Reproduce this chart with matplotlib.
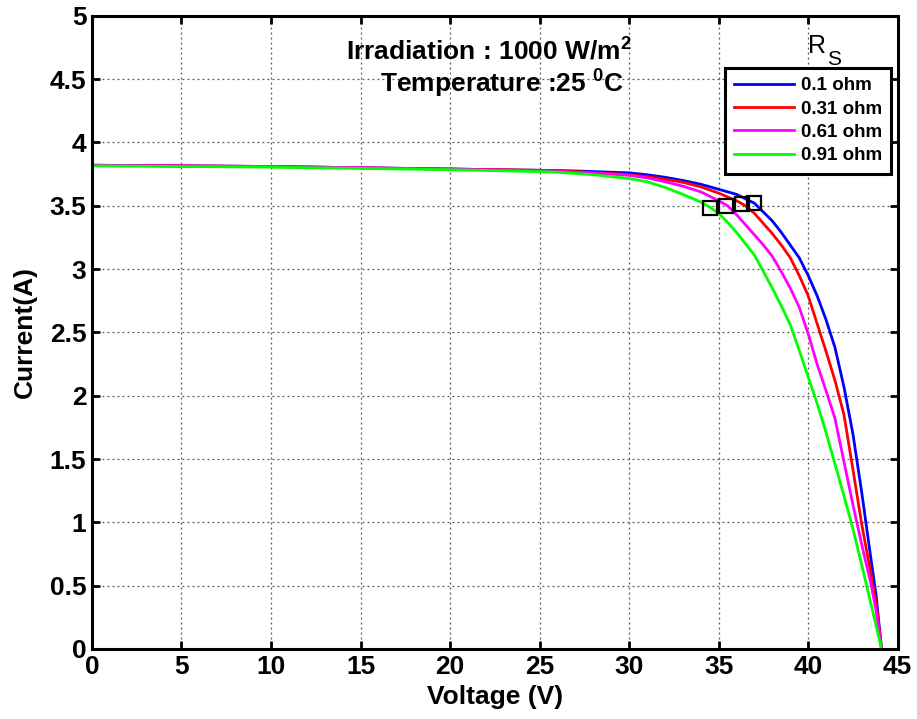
import matplotlib
matplotlib.use("Agg")
import matplotlib.pyplot as plt

plt.rcParams['font.family'] = ['Liberation Sans', 'DejaVu Sans']
plt.rcParams['mathtext.default'] = 'regular'

# Data
v_blue = [0, 5, 10, 15, 20, 25, 27, 29, 30, 31, 32, 33, 34, 35, 36, 37, 38, 38.5, 39, 39.5, 40, 40.5,
          41, 41.5, 42, 42.5, 43, 43.5, 43.8, 44.1]
i_blue = [3.82, 3.815, 3.81, 3.80, 3.79, 3.78, 3.775, 3.765, 3.76, 3.745, 3.725, 3.70, 3.67, 3.63, 3.59,
          3.52, 3.38, 3.29, 3.19, 3.09, 2.95, 2.79, 2.60, 2.38, 2.07, 1.70, 1.23, 0.72, 0.42, 0.0]

v_red = [0, 5, 10, 15, 20, 25, 27, 29, 30, 31, 32, 33, 34, 35, 36, 36.5, 37, 37.5, 38, 38.5, 39, 39.5,
         40, 40.5, 41, 41.5, 42, 42.5, 43, 43.5, 43.8, 44.1]
i_red = [3.82, 3.815, 3.81, 3.80, 3.79, 3.78, 3.77, 3.755, 3.745, 3.73, 3.71, 3.685, 3.65, 3.60, 3.54,
         3.50, 3.44, 3.36, 3.28, 3.19, 3.09, 2.95, 2.79, 2.57, 2.35, 2.12, 1.85, 1.42, 0.98, 0.60, 0.36, 0.0]

v_mag = [0, 5, 10, 15, 20, 25, 27, 29, 30, 31, 32, 33, 34, 35, 35.5, 36, 36.5, 37, 37.5, 38, 38.5, 39,
         39.5, 40, 40.5, 41, 41.5, 42, 42.5, 43, 43.5, 43.8, 44.1]
i_mag = [3.82, 3.815, 3.81, 3.80, 3.79, 3.775, 3.765, 3.75, 3.74, 3.72, 3.69, 3.655, 3.61, 3.54, 3.50,
         3.43, 3.35, 3.27, 3.19, 3.10, 2.98, 2.85, 2.70, 2.49, 2.25, 2.04, 1.82, 1.48, 1.14, 0.82, 0.52, 0.30, 0.0]

v_grn = [0, 5, 10, 15, 20, 25, 26, 27, 28, 29, 30, 31, 32, 33, 34, 34.5, 35, 35.5, 36, 36.5, 37, 37.5,
         38, 38.5, 39, 39.5, 40, 40.5, 41, 41.5, 42, 42.5, 43, 43.5, 44.1]
i_grn = [3.815, 3.81, 3.805, 3.795, 3.785, 3.77, 3.765, 3.755, 3.745, 3.73, 3.715, 3.69, 3.645, 3.59,
         3.53, 3.49, 3.44, 3.37, 3.29, 3.20, 3.11, 2.98, 2.85, 2.71, 2.56, 2.36, 2.15, 1.94, 1.71, 1.46,
         1.21, 0.95, 0.66, 0.36, 0.0]

mpp_v = [34.54, 35.39, 36.33, 36.98]
mpp_i = [3.485, 3.50, 3.515, 3.525]

labels = ['0.1 ohm', '0.31 ohm', '0.61 ohm', '0.91 ohm']
colors = ['#0000ff', '#ff0000', '#ff00ff', '#00ff00']
xticks = [0, 5, 10, 15, 20, 25, 30, 35, 40, 45]
yticks = [0, 0.5, 1, 1.5, 2, 2.5, 3, 3.5, 4, 4.5, 5]
ytick_labels = ['0', '0.5', '1', '1.5', '2', '2.5', '3', '3.5', '4', '4.5', '5']

fig = plt.figure(figsize=(9.17, 7.19), dpi=100)
ax = fig.add_axes([0.1003, 0.0974, 0.8786, 0.8806])

series = [(v_blue, i_blue), (v_red, i_red), (v_mag, i_mag), (v_grn, i_grn)]
for (vv, ii), c, lab in zip(series, colors, labels):
    ax.plot(vv, ii, color=c, lw=2.0, label=lab, solid_joinstyle='round')

ax.plot(mpp_v, mpp_i, linestyle='none', marker='s', markersize=9.8,
        markerfacecolor='none', markeredgecolor='black', markeredgewidth=1.6)

ax.set_xlim(0, 45)
ax.set_ylim(0, 5)
ax.set_xticks(xticks)
ax.set_yticks(yticks)
ax.set_yticklabels(ytick_labels)
ax.grid(True, linestyle=(0, (1.5, 2.5)), color='#555555', linewidth=0.9)
ax.tick_params(direction='in', length=6, width=2, top=True, right=True,
               labelsize=19, pad=4)
for lbl in ax.get_xticklabels() + ax.get_yticklabels():
    lbl.set_fontweight('bold')
for sp in ax.spines.values():
    sp.set_linewidth(2.2)

ax.set_xlabel('Voltage (V)', fontsize=19, fontweight='bold', labelpad=5)
ax.set_ylabel('Current(A)', fontsize=19, fontweight='bold', labelpad=9)

ax.text(22.17, 4.72, 'Irradiation : 1000 W/m$^{2}$', ha='center', va='center',
        fontsize=19, fontweight='bold')
ax.text(22.92, 4.46, 'Temperature :25 $^{0}$C', ha='center', va='center',
        fontsize=19, fontweight='bold')
ax.text(40.0, 4.708, 'R', ha='left', va='baseline', fontsize=18)
ax.text(41.05, 4.613, 'S', ha='left', va='baseline', fontsize=15)

leg = ax.legend(loc='upper right', bbox_to_anchor=(0.992, 0.918), borderaxespad=0,
                prop={'weight': 'bold', 'size': 13.5}, handlelength=3.2,
                labelspacing=0.33, fancybox=False, framealpha=1,
                edgecolor='black', borderpad=0.5, handletextpad=0.35)
leg.get_frame().set_linewidth(2.2)
for line in leg.get_lines():
    line.set_linewidth(2.0)

fig.savefig('out.png', dpi=100)
